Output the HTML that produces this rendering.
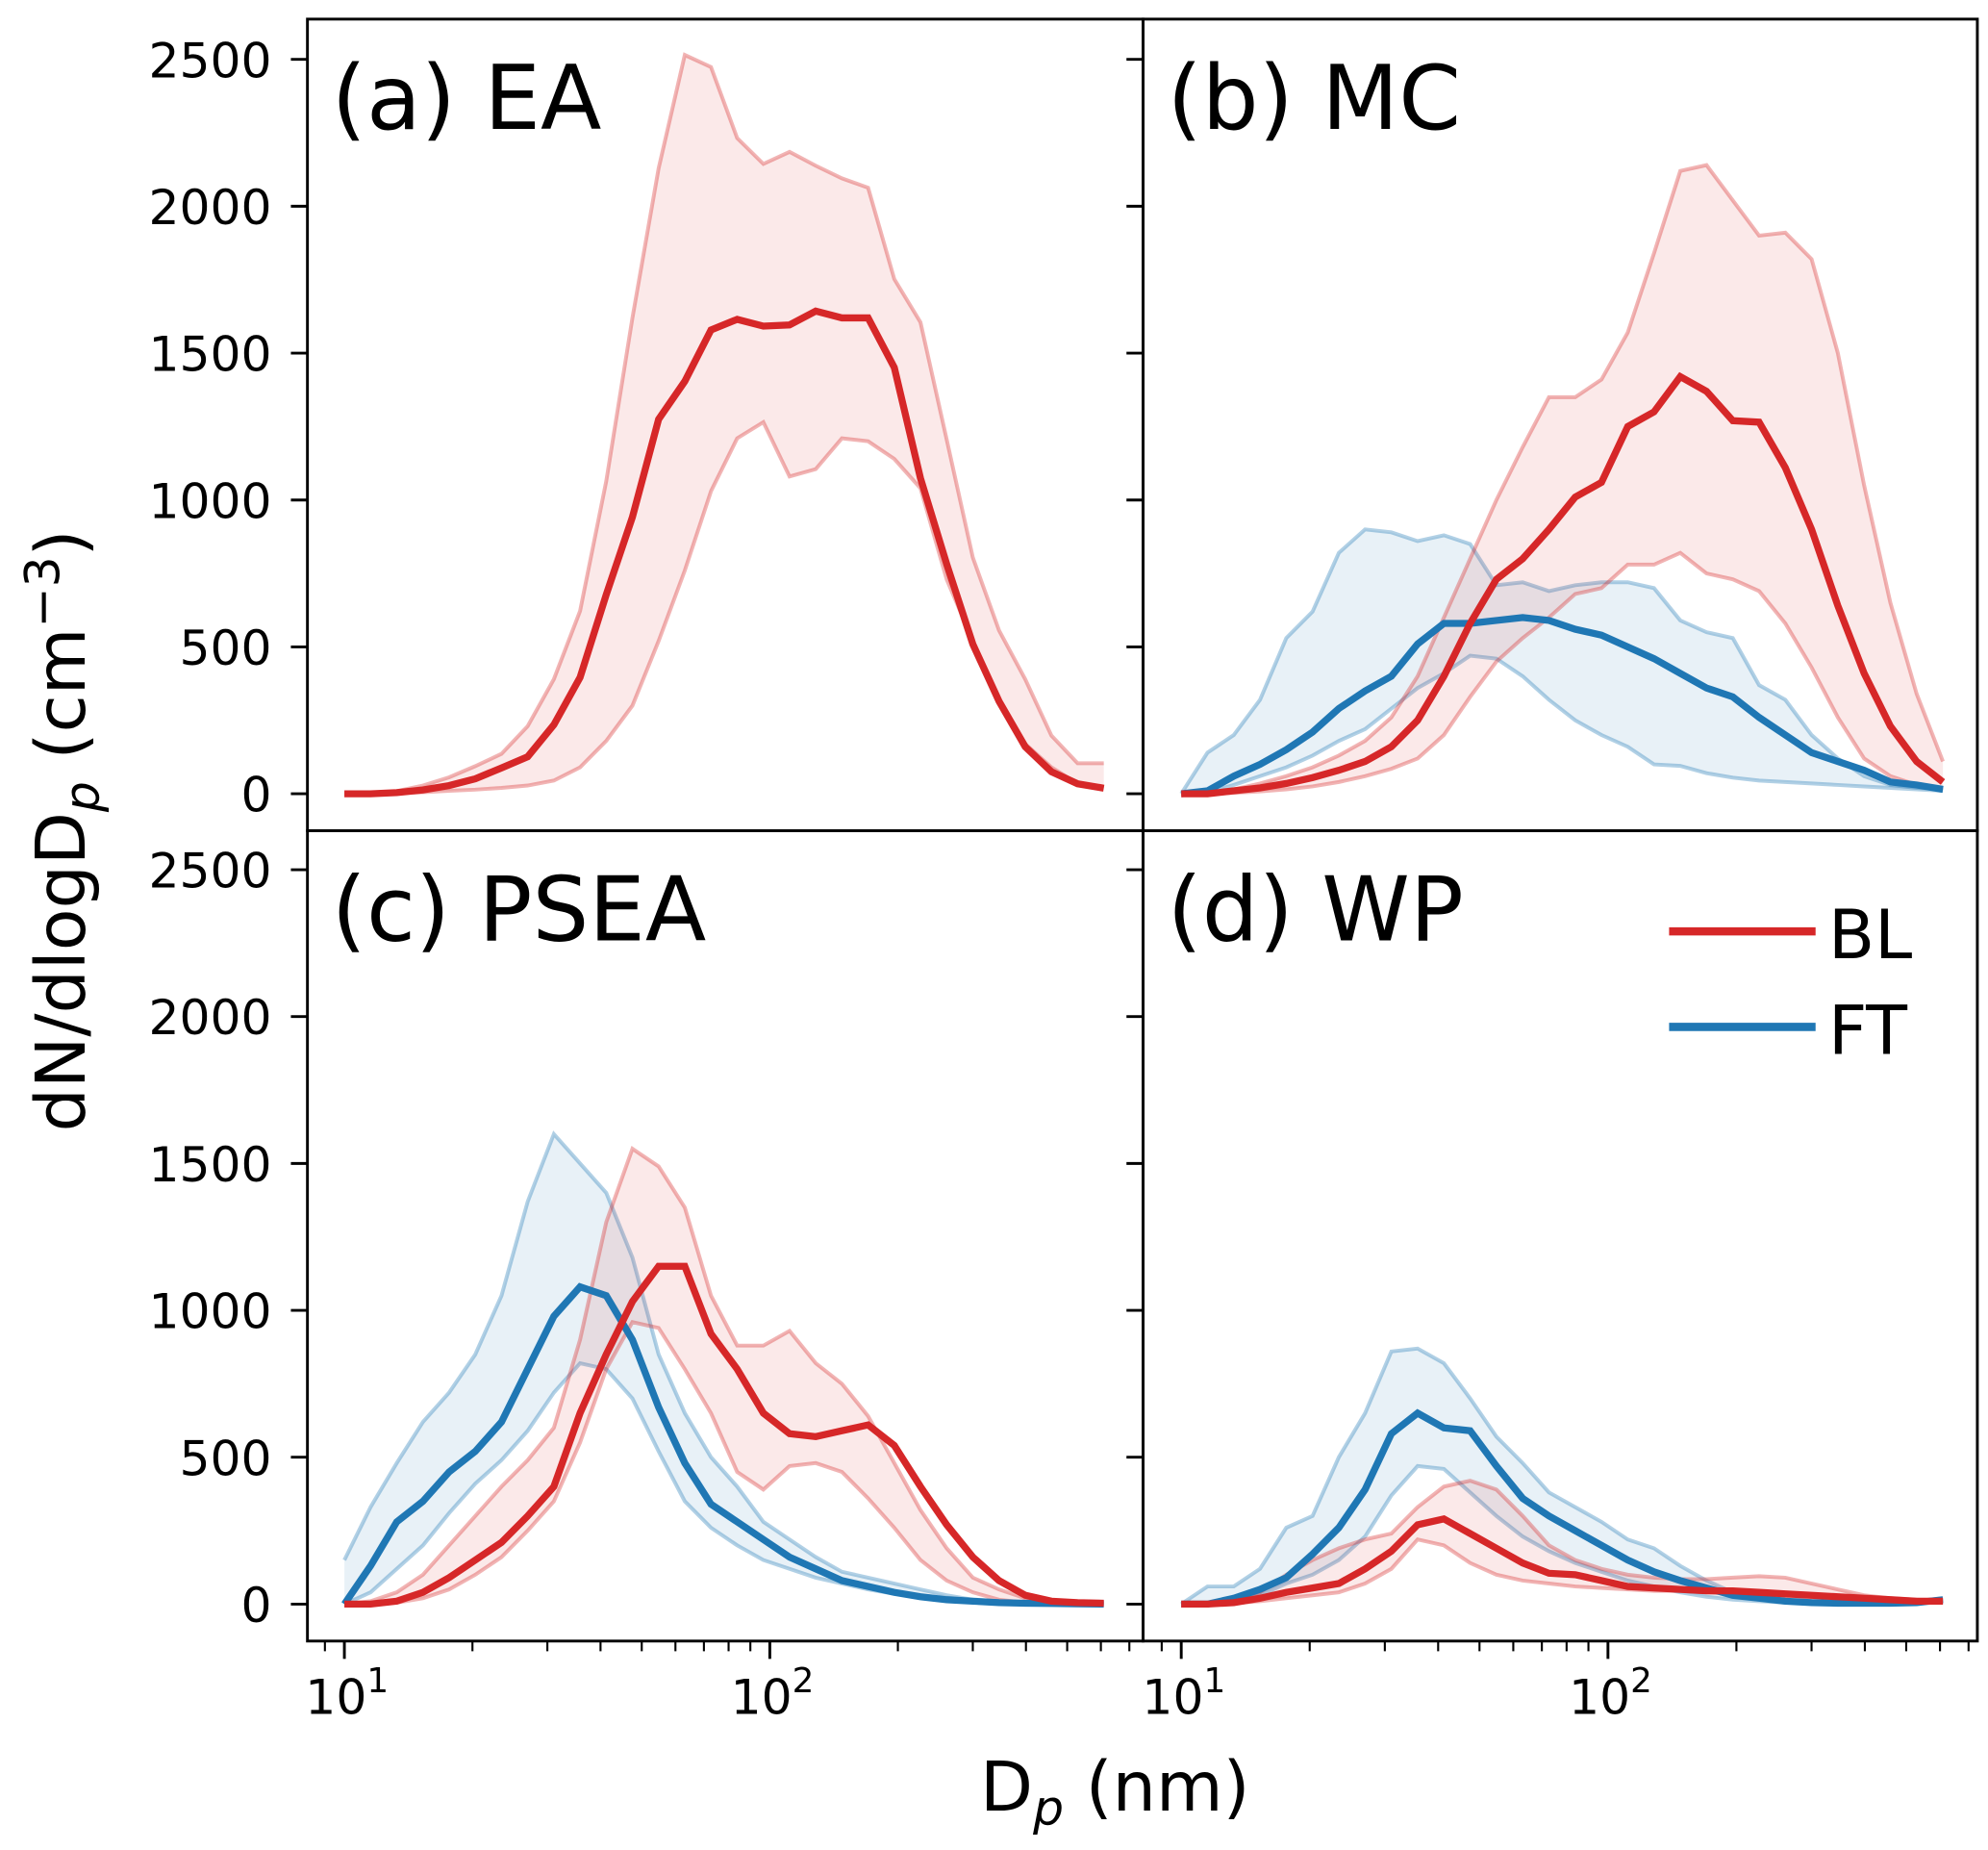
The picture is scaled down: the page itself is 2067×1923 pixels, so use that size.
<!DOCTYPE html>
<html><head><meta charset="utf-8"><style>
html,body{margin:0;padding:0;background:#fff;}
svg{display:block;font-family:"DejaVu Sans","Liberation Sans",sans-serif;}
</style></head><body>
<svg id="chart" width="2067" height="1923" viewBox="0 0 1560 1452" xmlns="http://www.w3.org/2000/svg">
<g id="layer"></g>
</svg>
<script>
// Diameter grid: 30 log-spaced bins from 10 nm to ~610 nm
const nBins = 30;
const logStart = 1, logEnd = 2.785;
// Panel names
const panelNames = ["(a) EA","(b) MC","(c) PSEA","(d) WP"];
const yTicks = [0,500,1000,1500,2000,2500];
const yTickLabels = ["0","500","1000","1500","2000","2500"];
// Panel a (EA)
const aBLmed = [0,0,4,13,28,51,88,126,235,396,678,942,1275,1404,1579,1615,1592,1596,1643,1620,1620,1451,1074,782,509,315,160,75,34,19];
const aBLhi  = [0,0,9,28,56,94,136,230,390,622,1064,1620,2129,2515,2474,2232,2144,2185,2138,2095,2063,1752,1605,1206,804,556,390,198,104,104];
const aBLlo  = [0,0,2,5,10,14,20,28,45,90,180,300,520,760,1030,1210,1265,1080,1105,1210,1200,1140,1040,730,520,310,170,90,35,20];
// Panel b (MC)
const bBLmed = [0,0,10,20,35,55,80,110,160,250,400,580,730,800,900,1010,1060,1250,1300,1420,1370,1270,1265,1110,900,640,410,230,110,40];
const bBLhi  = [0,0,15,35,60,90,130,180,260,400,600,800,1000,1180,1350,1350,1410,1570,1840,2120,2140,2020,1900,1910,1820,1500,1050,650,340,110];
const bBLlo  = [0,0,3,8,15,25,40,60,85,120,200,330,450,530,600,680,700,780,780,820,750,730,690,580,430,260,120,60,30,15];
const bFTmed = [0,10,60,100,150,210,290,350,400,510,580,580,590,600,590,560,540,500,460,410,360,330,260,200,140,110,80,40,30,15];
const bFThi  = [0,140,200,320,530,620,820,900,890,860,880,850,710,720,690,710,720,720,700,590,550,530,370,320,200,120,60,30,20,15];
const bFTlo  = [0,5,30,60,90,130,180,220,290,360,410,470,460,400,320,250,200,160,100,95,70,55,45,40,35,30,25,20,15,10];
// Panel c (PSEA)
const cBLmed = [0,0,10,40,90,150,210,300,400,650,850,1030,1150,1150,920,800,650,580,570,590,610,540,400,270,160,80,30,10,5,3];
const cBLhi  = [0,10,40,100,200,300,400,490,600,900,1300,1550,1490,1350,1050,880,880,930,820,750,640,480,320,190,90,50,20,10,5,3];
const cBLlo  = [0,0,5,20,50,100,160,250,350,550,800,960,940,800,650,450,390,470,480,450,360,260,150,80,40,15,5,2,1,0];
const cFTmed = [0,130,280,350,450,520,620,800,980,1080,1050,900,670,480,340,280,220,160,120,80,60,40,25,15,10,5,3,2,1,0];
const cFThi  = [150,330,480,620,720,850,1050,1370,1600,1500,1400,1180,850,650,500,400,280,220,160,110,90,70,50,30,15,10,5,3,2,1];
const cFTlo  = [0,40,120,200,310,410,490,590,720,820,800,700,520,350,260,200,150,120,90,70,50,35,25,15,10,5,3,2,1,0];
// Panel d (WP)
const dBLmed = [0,0,5,20,40,55,70,120,180,270,290,240,190,140,105,100,80,60,55,50,45,45,40,35,30,25,20,15,10,10];
const dBLhi  = [0,0,10,40,100,150,190,220,240,330,400,420,390,300,200,150,120,100,90,85,85,90,95,90,70,50,30,20,15,10];
const dBLlo  = [0,0,3,10,20,30,40,70,120,220,200,140,100,80,70,60,55,50,45,45,40,35,30,25,20,15,10,8,5,5];
const dFTmed = [0,0,20,50,90,170,260,390,580,650,600,590,470,360,300,250,200,150,110,80,55,30,20,10,5,3,3,3,5,15];
const dFThi  = [0,60,60,120,260,300,500,650,860,870,820,700,570,480,380,330,280,220,190,130,80,40,20,10,5,5,5,5,10,20];
const dFTlo  = [0,0,10,30,70,100,150,230,370,470,460,380,300,230,180,140,110,80,60,40,25,15,10,5,3,3,3,3,5,10];

const RED="#d62728", BLUE="#1f77b4";
const NS="http://www.w3.org/2000/svg";
const layer=document.getElementById('layer');
function mk(tag,attrs,parent){const e=document.createElementNS(NS,tag);for(const k in attrs)e.setAttribute(k,attrs[k]);(parent||layer).appendChild(e);return e;}

const diam = Array.from({length:nBins},(_,i)=>Math.pow(10, logStart + i*(logEnd-logStart)/(nBins-1)));

const panels=[
 {x0:241,x1:897,y0:15,y1:652,xAt10:270,dec:334,yZero:623},
 {x0:897,x1:1552,y0:15,y1:652,xAt10:927,dec:335,yZero:623},
 {x0:241,x1:897,y0:652,y1:1288,xAt10:270,dec:334,yZero:1259},
 {x0:897,x1:1552,y0:652,y1:1288,xAt10:927,dec:335,yZero:1259}
];
const yPerUnit=(623-46.6)/2500;
function xs(p,d){return p.xAt10+(Math.log10(d)-1)*p.dec;}
function ys(p,v){return p.yZero-v*yPerUnit;}

const series=[
 [{c:RED,med:aBLmed,hi:aBLhi,lo:aBLlo,n:'bl'}],
 [{c:BLUE,med:bFTmed,hi:bFThi,lo:bFTlo,n:'ft'},{c:RED,med:bBLmed,hi:bBLhi,lo:bBLlo,n:'bl'}],
 [{c:BLUE,med:cFTmed,hi:cFThi,lo:cFTlo,n:'ft'},{c:RED,med:cBLmed,hi:cBLhi,lo:cBLlo,n:'bl'}],
 [{c:BLUE,med:dFTmed,hi:dFThi,lo:dFTlo,n:'ft'},{c:RED,med:dBLmed,hi:dBLhi,lo:dBLlo,n:'bl'}]
];
const tags=['a','b','c','d'];

panels.forEach((p,pi)=>{
  const g=mk('g',{});
  
  
  const cp=mk('clipPath',{id:'cp'+pi},g);
  mk('rect',{x:p.x0,y:p.y0,width:p.x1-p.x0,height:p.y1-p.y0},cp);
  const dg=mk('g',{'clip-path':'url(#cp'+pi+')'},g);
  series[pi].forEach(s=>{
    const up=diam.map((d,i)=>xs(p,d)+','+ys(p,s.hi[i]));
    const dn=diam.map((d,i)=>xs(p,d)+','+ys(p,s.lo[i])).reverse();
    const f=mk('polygon',{points:up.concat(dn).join(' '),fill:s.c,'fill-opacity':0.1,stroke:'none'},dg);
    
    
    [['hi',s.hi],['lo',s.lo]].forEach(([nm,arr])=>{
      const l=mk('polyline',{points:diam.map((d,i)=>xs(p,d)+','+ys(p,arr[i])).join(' '),fill:'none',stroke:s.c,'stroke-opacity':0.35,'stroke-width':3},dg);
      
      
    });
  });
  series[pi].forEach(s=>{
    const l=mk('polyline',{points:diam.map((d,i)=>xs(p,d)+','+ys(p,s.med[i])).join(' '),fill:'none',stroke:s.c,'stroke-width':5.5,'stroke-linejoin':'miter'},dg);
    
    
  });
  const fr=mk('rect',{x:p.x0,y:p.y0,width:p.x1-p.x0,height:p.y1-p.y0,fill:'none',stroke:'#000','stroke-width':2.2},g);
  
  
  yTicks.forEach((v,ti)=>{
    const y=ys(p,v);
    mk('line',{x1:p.x0-13,x2:p.x0,y1:y,y2:y,stroke:'#000','stroke-width':2.2},g);
    if(pi%2===0){
      const t=mk('text',{x:p.x0-28,y:y+14,'text-anchor':'end','font-size':38},g);
      t.textContent=yTickLabels[ti];
      
      
    }
  });
  if(pi>=2){
    for(let e=0;e<=2;e++){
      for(let m=1;m<10;m++){
        const d=m*Math.pow(10,e);
        const x=xs(p,d);
        if(x<p.x0||x>p.x1)continue;
        const major=(m===1);
        mk('line',{x1:x,x2:x,y1:p.y1,y2:p.y1+(major?14:8),stroke:'#000','stroke-width':major?2.2:1.6},g);
        if(major && e>=1){
          const t=mk('text',{x:x+2,y:p.y1+57,'text-anchor':'middle','font-size':38},g);
          
          
          t.textContent='10';
          const sup=mk('tspan',{dy:-17,'font-size':27},t);
          sup.textContent=String(e);
        }
      }
    }
  }
  const pl=mk('text',{x:p.x0+19,y:p.y0+86,'font-size':70},g);
  pl.textContent=panelNames[pi];
  
  
});

const lg=mk('g',{});


[[RED,'BL',731],[BLUE,'FT',806]].forEach(([c,lab,y])=>{
  const l=mk('line',{x1:1310,x2:1425,y1:y,y2:y,stroke:c,'stroke-width':6.5},lg);
  
  
  const t=mk('text',{x:1435,y:y+21,'font-size':53},lg);
  t.textContent=lab;
  
  
});

const xt=mk('text',{x:875,y:1421,'text-anchor':'middle','font-size':54});


xt.innerHTML='D<tspan dy="11" font-size="38" font-style="italic">p</tspan><tspan dy="-11"> (nm)</tspan>';
const yt=mk('text',{transform:'translate(66,652) rotate(-90)','text-anchor':'middle','font-size':54});


yt.innerHTML='dN/dlogD<tspan dy="11" font-size="38" font-style="italic">p</tspan><tspan dy="-11"> (cm</tspan><tspan dy="-20" font-size="38">−3</tspan><tspan dy="20">)</tspan>';
</script>
</body></html>
